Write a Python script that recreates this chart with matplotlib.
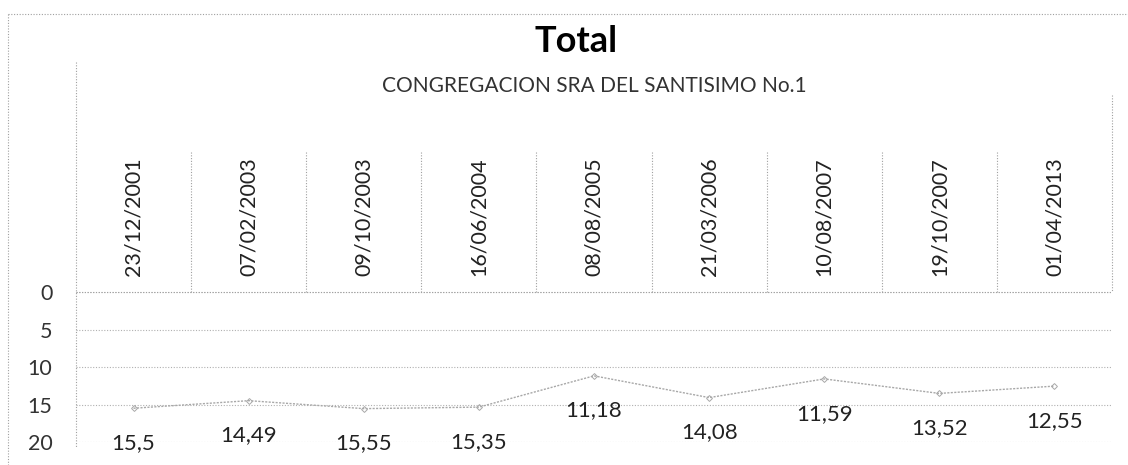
import matplotlib.pyplot as plt
from matplotlib.lines import Line2D

plt.rcParams['font.family'] = ['Lato', 'DejaVu Sans']

# data
fechas = ['23/12/2001', '07/02/2003', '09/10/2003', '16/06/2004', '08/08/2005',
          '21/03/2006', '10/08/2007', '19/10/2007', '01/04/2013']
valores = [15.5, 14.49, 15.55, 15.35, 11.18, 14.08, 11.59, 13.52, 12.55]
etiquetas = ['15,5', '14,49', '15,55', '15,35', '11,18', '14,08', '11,59', '13,52', '12,55']
yticks = [0, 5, 10, 15, 20]
grupo = 'CONGREGACION SRA DEL SANTISIMO No.1'

W, H = 1128, 465
fig = plt.figure(figsize=(W / 100, H / 100), dpi=100)

x0, x1 = 76, 1112       # plot left / right in px
ytop, ybot = 292, 442   # value 0 / value 20 in px

ax = fig.add_axes([x0 / W, 1 - ybot / H, (x1 - x0) / W, (ybot - ytop) / H])
n = len(fechas)
xs = list(range(n))
ax.set_xlim(-0.5, n - 0.5)
ax.set_ylim(20, 0)
ax.set_yticks(yticks)
ax.set_yticklabels([str(t) for t in yticks], fontsize=15.5, color='#333333')
ax.tick_params(axis='y', length=0, pad=17)
ax.set_xticks([])
for s in ax.spines.values():
    s.set_visible(False)
for t in yticks:
    ax.axhline(t, color='#b0b0b0', lw=0.8, ls=(0, (1, 1.5)), zorder=0)

ax.plot(xs, valores, color='#a8a8a8', lw=1.0, ls=(0, (1.5, 1)),
        marker='D', ms=3, mfc='none', mec='#a8a8a8', mew=0.7, zorder=2)
for x, v, lab in zip(xs, valores, etiquetas):
    ax.annotate(lab, (x, v), xytext=(0, -25), textcoords='offset points',
                ha='center', va='center', fontsize=16, color='#222222',
                annotation_clip=False)

# header: title, group label, category cells
fig.text(576 / W, 1 - 41 / H, 'Total', ha='center', va='center',
         fontsize=26, fontweight='bold')
fig.text((x0 + x1) / 2 / W, 1 - 86 / H, grupo, ha='center', va='center',
         fontsize=15, color='#333333')

cw = (x1 - x0) / n
for i, f in enumerate(fechas):
    cx = x0 + cw * (i + 0.5)
    fig.text(cx / W, 1 - 217 / H, f, rotation=90, ha='center', va='center',
             fontsize=15.5, color='#222222')

dot = dict(color='#a0a0a0', lw=0.8, ls=(0, (1, 1.5)))


def fline(xa, ya, xb, yb):
    fig.add_artist(Line2D([xa / W, xb / W], [1 - ya / H, 1 - yb / H], **dot))


for i in range(1, n):
    bx = x0 + cw * i
    fline(bx, 152, bx, ytop)
fline(x0, 62, x0, 448)
fline(x1, 95, x1, ytop)
fline(x0, ytop, x1, ytop)
# outer chart frame
fline(8, 14, 8, 465)
fline(8, 14, W, 14)

fig.savefig('out.png', dpi=100)
